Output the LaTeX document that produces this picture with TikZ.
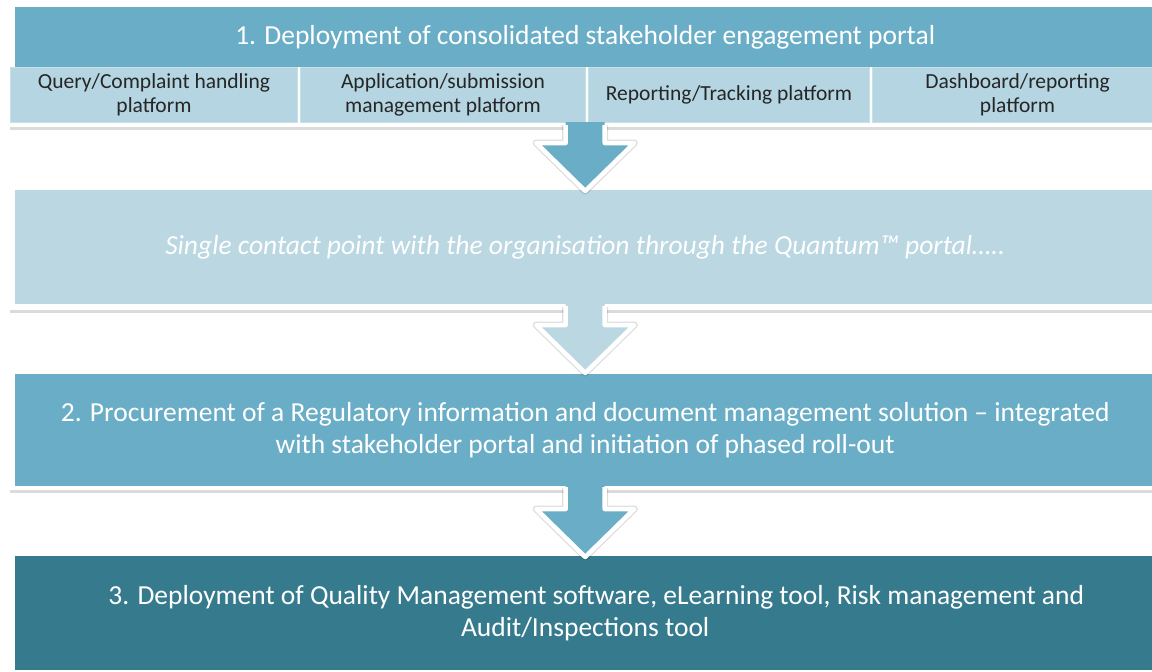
\documentclass[tikz,border=0pt]{standalone}
\usepackage{fontspec}
\setmainfont{Carlito}
\usetikzlibrary{shadows,calc}
\definecolor{band}{HTML}{69AEC6}
\definecolor{sub}{HTML}{B4D5E1}
\definecolor{subline}{HTML}{C6E0E9}
\definecolor{light}{HTML}{BAD7E2}
\definecolor{dark}{HTML}{367B8D}
\definecolor{txt}{HTML}{262626}
\begin{document}
\begin{tikzpicture}[x=1pt,y=-1pt,
  frame/.style={fill=white, draw=none, inner sep=0pt, anchor=north west,
    drop shadow={shadow xshift=1pt, shadow yshift=-2.5pt, opacity=0.2, fill=black!70}},
  bandbox/.style={fill=#1, draw=none, inner sep=0pt, anchor=north west, minimum width=1140, text=white, align=center},
  subbox/.style={fill=sub, draw=subline, line width=1pt, inner sep=0pt, anchor=north west, minimum height=55,
    text=txt, align=center, font=\fontsize{21.5}{24}\selectfont},
  bigtext/.style={font=\fontsize{27.5}{32}\selectfont},
  arrowfill/.style={fill=#1},
  arrowshadow/.style={draw=black, opacity=0.13, line width=7pt, line join=round, shift={(1.5pt,-2pt)}},
  arrowline/.style={draw=white, line width=4.5pt, line join=round}
]
\clip (0,0) rectangle (1152,672);
\fill[white] (0,0) rectangle (1152,672);
% frames
\node[frame, minimum width=1160, minimum height=124] (f1) at (9,3) {};
\node[frame, minimum width=1160, minimum height=125] (f2) at (9,185) {};
\node[frame, minimum width=1160, minimum height=122] (f3) at (9,368) {};
\node[frame, minimum width=1160, minimum height=130] (f4) at (9,550) {};
% box 1
\node[bandbox=band, minimum height=60, bigtext] (b1) at (15,7) {1. Deployment of consolidated stakeholder engagement portal};
\node[subbox, minimum width=287] (s1) at (10,67) {Query/Complaint handling\\platform};
\node[subbox, minimum width=285] (s2) at (300,67) {Application/submission\\management platform};
\node[subbox, minimum width=281] (s3) at (588,67) {Reporting/Tracking platform};
\node[subbox, minimum width=290] (s4) at (872,67) {Dashboard/reporting\\platform};
% box 2
\node[bandbox=light, minimum height=114, bigtext] (b2) at (15,190) {\itshape Single contact point with the organisation through the Quantum™ portal…..};
% box 3
\node[bandbox=band, minimum height=112, bigtext] (b3) at (15,374) {2. Procurement of a Regulatory information and document management solution – integrated\\with stakeholder portal and initiation of phased roll-out};
% box 4
\node[bandbox=dark, minimum height=114, bigtext] (b4) at (15,556) {\hspace*{22pt}3. Deployment of Quality Management software, eLearning tool, Risk management and\\Audit/Inspections tool};
% arrow 1
\coordinate (t1) at ($(b2.north)+(0,1)$);
\draw[arrowshadow] ($(t1)+(-19.5,-66)$) -- ++(0,18) -- ++(-29.5,0) -- (t1) -- ++(49,-48) -- ++(-29.5,0) -- ++(0,-18);
\path[arrowfill=band] (t1) -- ++(-49,-48) -- ++(29.5,0) -- ++(0,-21) -- ++(39,0) -- ++(0,21) -- ++(29.5,0) -- cycle;
\draw[arrowline] ($(t1)+(-19.5,-66)$) -- ++(0,18) -- ++(-29.5,0) -- (t1) -- ++(49,-48) -- ++(-29.5,0) -- ++(0,-18);
% arrow 2
\coordinate (t2) at ($(b3.north)+(0,-1)$);
\draw[arrowshadow] ($(t2)+(-19.5,-66)$) -- ++(0,18) -- ++(-29.5,0) -- (t2) -- ++(49,-48) -- ++(-29.5,0) -- ++(0,-18);
\path[arrowfill=light] (t2) -- ++(-49,-48) -- ++(29.5,0) -- ++(0,-22) -- ++(39,0) -- ++(0,22) -- ++(29.5,0) -- cycle;
\draw[arrowline] ($(t2)+(-19.5,-67)$) -- ++(0,19) -- ++(-29.5,0) -- (t2) -- ++(49,-48) -- ++(-29.5,0) -- ++(0,-19);
% arrow 3
\coordinate (t3) at ($(b4.north)+(0,1)$);
\draw[arrowshadow] ($(t3)+(-19.5,-69)$) -- ++(0,21) -- ++(-29.5,0) -- (t3) -- ++(49,-48) -- ++(-29.5,0) -- ++(0,-21);
\path[arrowfill=band] (t3) -- ++(-49,-48) -- ++(29.5,0) -- ++(0,-25) -- ++(39,0) -- ++(0,25) -- ++(29.5,0) -- cycle;
\draw[arrowline] ($(t3)+(-19.5,-70)$) -- ++(0,22) -- ++(-29.5,0) -- (t3) -- ++(49,-48) -- ++(-29.5,0) -- ++(0,-22);
\end{tikzpicture}
\end{document}
